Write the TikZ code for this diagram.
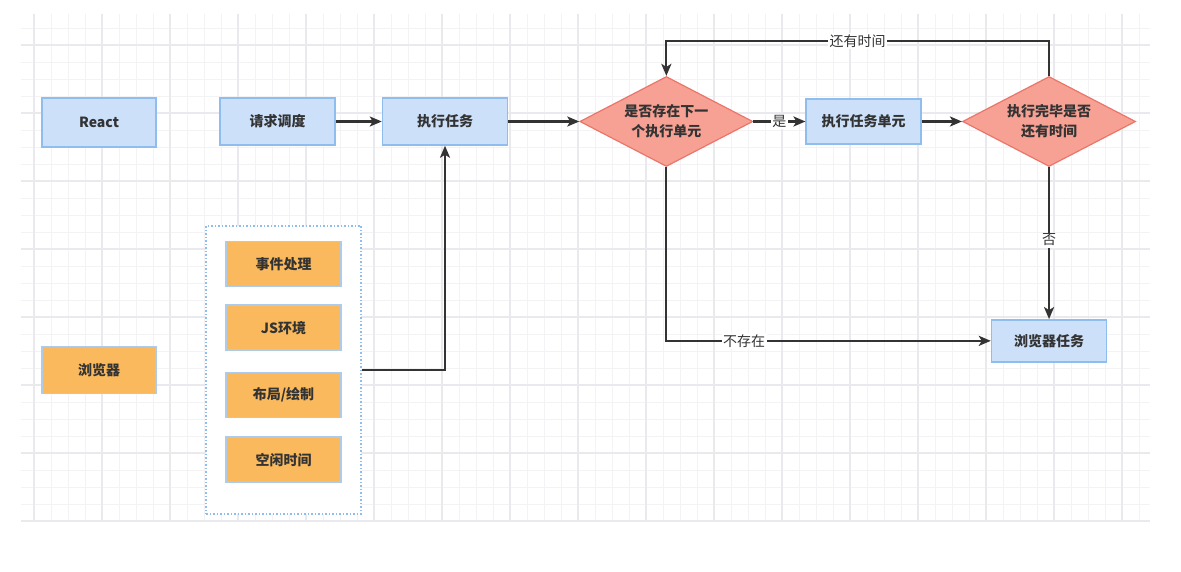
\documentclass[tikz,border=0pt]{standalone}
\usepackage{fontspec}
\setmainfont{Noto Sans CJK SC}
\usepackage{xcolor}
\usetikzlibrary{shapes.geometric, arrows.meta, positioning}
\definecolor{boxblue}{HTML}{CCE0FA}
\definecolor{lineblue}{HTML}{8FBEEE}
\definecolor{boxorange}{HTML}{F9B95C}
\definecolor{orangeline}{HTML}{AFCBEA}
\definecolor{diafill}{HTML}{F6A194}
\definecolor{diared}{HTML}{EA766A}
\definecolor{txt}{HTML}{333333}
\definecolor{arrowgray}{HTML}{333333}
\definecolor{gridlight}{HTML}{F3F3F6}
\definecolor{griddark}{HTML}{EAEAEE}
\tikzset{
  blu/.style={rectangle, draw=lineblue, line width=1.5pt, fill=boxblue,
              minimum width=115pt, minimum height=47pt, align=center,
              font=\fontsize{14}{17}\selectfont\bfseries, text=txt},
  org/.style={rectangle, draw=orangeline, line width=1.5pt, fill=boxorange,
              minimum width=115pt, minimum height=45pt, align=center,
              font=\fontsize{14}{17}\selectfont\bfseries, text=txt},
  dia/.style={diamond, aspect=1.92, draw=diared, fill=diafill, line width=1.2pt,
              inner sep=0pt, minimum width=173pt, minimum height=90pt, align=center,
              font=\fontsize{14}{20}\selectfont\bfseries, text=txt},
  grp/.style={rectangle, draw=lineblue, dotted, line width=1.5pt, fill=white,
              minimum width=155pt, minimum height=288pt},
  fl/.style={-{Stealth[length=12pt, width=10pt, inset=3pt]}, line width=2.2pt, draw=arrowgray},
  lbl/.style={fill=white, inner sep=1.5pt, font=\fontsize{14}{17}\selectfont, text=txt},
  gminor/.style={draw=gridlight, line width=0.8pt},
  gmajor/.style={draw=griddark, line width=1.1pt}
}
\begin{document}
\begin{tikzpicture}[x=1pt, y=-1pt]
\fill[white] (0,0) rectangle (1181,572);
\useasboundingbox (0,0) rectangle (1181,572);
% background grid
\foreach \i in {0,...,65} \draw[gminor] ({34+17*\i},14) -- ({34+17*\i},522);
\foreach \j in {0,...,29} \draw[gminor] (21,{28+17*\j}) -- (1150,{28+17*\j});
\foreach \i in {0,...,16} \draw[gmajor] ({34+68*\i},14) -- ({34+68*\i},522);
\foreach \j in {0,...,7} \draw[gmajor] (21,{45+68*\j}) -- (1150,{45+68*\j});
% nodes
\node[blu, minimum width=114pt, minimum height=49pt] (react) at (99,122.5) {React};
\node[blu] (req) at (277.5,121.5) {请求调度};
\node[blu, right=46pt of req, minimum width=125pt] (run) {执行任务};
\node[dia, right=71pt of run] (d1) {是否存在下一\\个执行单元};
\node[blu, right=52pt of d1, minimum height=45pt] (unit) {执行任务单元};
\node[dia, right=40pt of unit] (d2) {执行完毕是否\\还有时间};
\node[blu, below=152pt of d2, minimum height=42pt] (bt) {浏览器任务};
\node[org, minimum width=114pt, minimum height=47pt] (brw) at (99,370) {浏览器};
\node[grp] (grp) at (283.7,369.9) {};
\node[org] (ev) at (283.5,264.2) {事件处理};
\node[org, below=17pt of ev] (js) {JS环境};
\node[org, below=21pt of js] (lay) {布局/绘制};
\node[org, below=18pt of lay] (idle) {空闲时间};
% connectors
\draw[fl] (req) -- (run);
\draw[fl] (run) -- (d1.west);
\draw[fl] (d1.east) -- node[lbl, pos=0.5]{是} (unit.west);
\draw[fl] (unit) -- (d2.west);
\draw[fl] (d2.north) -- ++(0,-35) -| node[lbl, pos=0.25]{还有时间} (d1.north);
\draw[fl] (d2.south) -- node[lbl, pos=0.48]{否} (bt.north);
\draw[fl] (d1.south) |- node[lbl, pos=0.62]{不存在} (bt.west);
\draw[fl] (grp.east) -| (run.south);
\end{tikzpicture}
\end{document}
